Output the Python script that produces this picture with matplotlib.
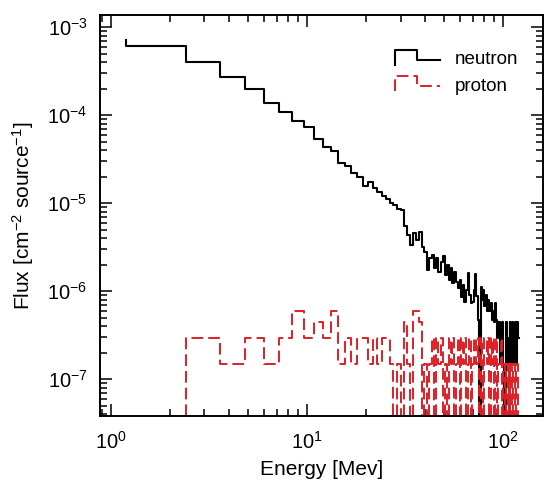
import numpy as np
import matplotlib
matplotlib.use('Agg')
import matplotlib.pyplot as plt
from matplotlib.lines import Line2D
from matplotlib.legend_handler import HandlerBase
from matplotlib.ticker import LogLocator, NullFormatter

plt.rcParams['font.family'] = ['Liberation Sans', 'DejaVu Sans']
plt.rcParams['mathtext.fontset'] = 'custom'
plt.rcParams['mathtext.rm'] = 'Liberation Sans'
plt.rcParams['mathtext.it'] = 'Liberation Sans:italic'
plt.rcParams['mathtext.bf'] = 'Liberation Sans:bold'

# bins of 1.2 MeV, 0 .. 120 MeV
bin_width = 1.2
n_bins = 100

neutron = [7.2e-4, 6.13e-4, 4.04e-4, 2.68e-4, 1.96e-4, 1.38e-4, 1.09e-4, 8.61e-5, 7.36e-5, 5.29e-5,
           4.36e-5, 3.93e-5, 2.87e-5, 2.63e-5, 2.19e-5, 1.97e-5, 1.56e-5, 1.73e-5, 1.48e-5, 1.33e-5,
           1.20e-5, 1.11e-5, 1.00e-5, 9.5e-6, 8.55e-6, 8.3e-6, 5.48e-6, 4.33e-6, 3.33e-6, 4.56e-6,
           3.80e-6, 4.68e-6, 3.16e-6, 2.77e-6, 1.73e-6, 2.37e-6, 2.57e-6, 1.82e-6, 2.37e-6, 1.64e-6,
           2.14e-6, 2.50e-6, 1.52e-6, 1.97e-6, 1.33e-6, 1.82e-6, 1.23e-6, 1.64e-6, 1.26e-6, 1.08e-6,
           1.33e-6, 8.55e-7, 1.17e-6, 7.5e-7, 1.03e-6, 1.60e-6, 9.0e-7, 7.3e-7, 7.5e-7, 1.03e-6,
           1.56e-6, 8.8e-7, 4.68e-7, 0, 1.11e-6, 7.9e-7, 1.03e-6, 6.76e-7, 9.0e-7, 5.93e-7,
           7.9e-7, 5.93e-7, 7.3e-7, 4.68e-7, 5.93e-7, 4.45e-7, 7.3e-7, 4.68e-7, 2.92e-7, 4.45e-7,
           1.48e-7, 2.92e-7, 4.45e-7, 1.48e-7, 0, 0, 4.45e-7, 1.48e-7, 2.92e-7, 1.48e-7,
           4.45e-7, 2.92e-7, 1.48e-7, 4.45e-7, 1.48e-7, 2.92e-7, 4.45e-7, 1.48e-7, 4.45e-7, 2.92e-7]

proton = [0, 0, 2.95e-7, 1.47e-7, 2.95e-7, 1.47e-7, 2.95e-7, 5.9e-7, 2.95e-7, 4.42e-7,
          2.95e-7, 5.9e-7, 1.47e-7, 2.95e-7, 1.47e-7, 2.95e-7, 2.95e-7, 1.47e-7, 2.95e-7, 1.47e-7,
          2.95e-7, 2.95e-7, 1.47e-7, 0, 1.47e-7, 0, 4.42e-7, 1.47e-7, 0, 5.9e-7,
          5.9e-7, 4.42e-7, 0, 1.47e-7, 0, 1.47e-7, 2.95e-7, 0, 2.95e-7, 1.47e-7,
          2.95e-7, 0, 1.47e-7, 0, 2.95e-7, 1.47e-7, 2.95e-7, 0, 1.47e-7, 2.95e-7,
          0, 2.95e-7, 1.47e-7, 2.95e-7, 0, 1.47e-7, 2.95e-7, 0, 1.47e-7, 2.95e-7,
          2.95e-7, 1.47e-7, 2.95e-7, 0, 2.95e-7, 1.47e-7, 0, 2.95e-7, 2.95e-7, 1.47e-7,
          2.95e-7, 0, 2.95e-7, 1.47e-7, 2.95e-7, 0, 1.47e-7, 2.95e-7, 0, 1.47e-7,
          1.47e-7, 2.95e-7, 0, 1.47e-7, 1.47e-7, 0, 1.47e-7, 1.47e-7, 0, 1.47e-7,
          0, 1.47e-7, 1.47e-7, 0, 1.47e-7, 1.47e-7, 0, 1.47e-7, 1.47e-7, 0]

labels = ['neutron', 'proton']
xlim = (0.879, 160)
ylim = (3.8e-8, 1.37e-3)


def step_path(vals, first_bin):
    # ROOT-like histogram outline, empty bins fall below the frame
    v = np.array(vals, dtype=float)
    v[v <= 0] = ylim[0] / 10
    edges = bin_width * np.arange(n_bins + 1)
    xs, ys = [], []
    for i in range(first_bin, n_bins):
        xs += [edges[i], edges[i + 1]]
        ys += [v[i], v[i]]
    # leading vertical from the previous bin
    xs = [edges[first_bin]] + xs
    ys = [v[first_bin - 1]] + ys
    return xs, ys


class StepHandler(HandlerBase):
    def create_artists(self, legend, orig_handle, xdescent, ydescent, width, height, fontsize, trans):
        xs = np.array([0, 0, 0.48, 0.48, 1.0]) * width - xdescent
        ys = np.array([-0.05, 1.1, 1.1, 0.35, 0.35]) * height - ydescent
        line = Line2D(xs, ys)
        line.update_from(orig_handle)
        line.set_transform(trans)
        return [line]


fig = plt.figure(figsize=(5.45, 4.82), dpi=100)
ax = fig.add_axes([100 / 545, 66 / 482, 443 / 545, 401 / 482])

nx, ny = step_path(neutron, 1)
px, py = step_path(proton, 1)
l1, = ax.plot(nx, ny, color='black', lw=1.5, label=labels[0])
l2, = ax.plot(px, py, color='#dd1f26', lw=1.4, linestyle=(0, (6, 2.6)), label=labels[1])

ax.set_xscale('log')
ax.set_yscale('log')
ax.set_xlim(*xlim)
ax.set_ylim(*ylim)

ax.xaxis.set_minor_locator(LogLocator(base=10, subs=np.arange(2, 10)))
ax.yaxis.set_minor_locator(LogLocator(base=10, subs=np.arange(2, 10)))
ax.xaxis.set_minor_formatter(NullFormatter())
ax.yaxis.set_minor_formatter(NullFormatter())

ax.tick_params(which='both', direction='in', top=True, right=True, width=1.1, labelsize=14.5)
ax.tick_params(which='major', length=8.6)
ax.tick_params(which='minor', length=5)
ax.tick_params(axis='x', which='major', pad=11)
ax.tick_params(axis='y', which='major', pad=9)
for s in ax.spines.values():
    s.set_linewidth(1.4)

ax.set_xlabel('Energy [Mev]', fontsize=15, labelpad=5)
ax.set_ylabel('Flux [cm$^{-2}$ source$^{-1}$]', fontsize=15, labelpad=8)

ax.legend(handles=[l1, l2], handler_map={Line2D: StepHandler()}, loc='upper left',
          bbox_to_anchor=(0.666, 0.91), frameon=False, fontsize=13.5,
          handlelength=2.4, handletextpad=0.8, labelspacing=0.5, borderpad=0, borderaxespad=0)

fig.savefig('out.png', dpi=100)
